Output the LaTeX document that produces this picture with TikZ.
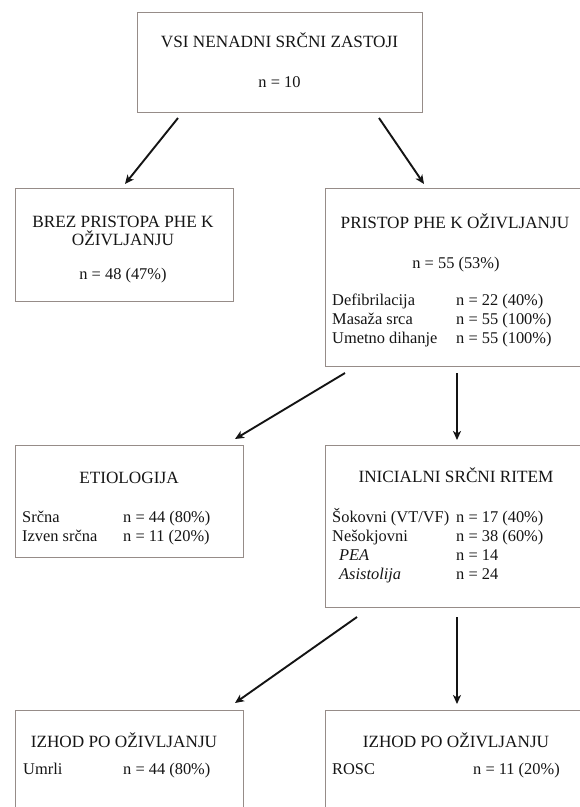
\documentclass[tikz,border=0pt]{standalone}
\usepackage{fontspec}
\setmainfont{Liberation Serif}
\usetikzlibrary{arrows.meta}
\definecolor{boxc}{HTML}{968C88}
\definecolor{ink}{HTML}{151515}
\begin{document}
\begin{tikzpicture}[x=1pt,y=-1pt,
  box/.style={draw=boxc, line width=1.1pt, inner sep=0pt, anchor=north west},
  head/.style={inner sep=0pt, anchor=base, text=ink, font=\fontsize{17.2}{19}\selectfont},
  body/.style={inner sep=0pt, anchor=base west, text=ink, font=\fontsize{16.4}{19}\selectfont},
  bodyc/.style={body, anchor=base},
  arr/.style={draw=black!92, line width=1.9pt, -{Stealth[length=9pt,width=8pt,inset=2.5pt]}}]
\useasboundingbox (0,0) rectangle (580,807);
\clip (0,0) rectangle (580,807);
\fill[white] (0,0) rectangle (580,807);

% boxes
\node[box, minimum width=285pt, minimum height=100pt] (b0) at (137,12) {};
\node[box, minimum width=218pt, minimum height=113pt] (b1) at (15,188) {};
\node[box, minimum width=270pt, minimum height=178pt] (b2) at (325,188) {};
\node[box, minimum width=228pt, minimum height=112pt] (b3) at (15,445) {};
\node[box, minimum width=270pt, minimum height=162pt] (b4) at (325,445) {};
\node[box, minimum width=228pt, minimum height=120pt] (b5) at (15,710) {};
\node[box, minimum width=270pt, minimum height=120pt] (b6) at (325,710) {};

% top box
\node[head] (t0) at (279.5,47) {VSI NENADNI SRČNI ZASTOJI};
\node[bodyc] (n0) at (279.5,87) {n = 10};

% without CPR by witnesses
\node[head] (t1a) at (123,227) {BREZ PRISTOPA PHE K};
\node[head] (t1b) at (123,245) {OŽIVLJANJU};
\node[bodyc] (n1) at (123,279) {n = 48 (47\%)};

% with CPR by witnesses
\node[head] (t2) at (455,228) {PRISTOP PHE K OŽIVLJANJU};
\node[bodyc] (n2) at (456,268) {n = 55 (53\%)};
\node[body] (l2a) at (332,305) {Defibrilacija};
\node[body] (v2a) at (456,305) {n = 22 (40\%)};
\node[body] (l2b) at (332,324) {Masaža srca};
\node[body] (v2b) at (456,324) {n = 55 (100\%)};
\node[body] (l2c) at (332,343) {Umetno dihanje};
\node[body] (v2c) at (456,343) {n = 55 (100\%)};

% etiology
\node[head] (t3) at (129,483) {ETIOLOGIJA};
\node[body] (l3a) at (22,522) {Srčna};
\node[body] (v3a) at (123,522) {n = 44 (80\%)};
\node[body] (l3b) at (22,541) {Izven srčna};
\node[body] (v3b) at (123,541) {n = 11 (20\%)};

% initial rhythm
\node[head] (t4) at (456,482) {INICIALNI SRČNI RITEM};
\node[body] (l4a) at (332,522) {Šokovni (VT/VF)};
\node[body] (v4a) at (456,522) {n = 17 (40\%)};
\node[body] (l4b) at (332,541) {Nešokjovni};
\node[body] (v4b) at (456,541) {n = 38 (60\%)};
\node[body] (l4c) at (339,560) {\itshape PEA};
\node[body] (v4c) at (456,560) {n = 14};
\node[body] (l4d) at (339,579) {\itshape Asistolija};
\node[body] (v4d) at (456,579) {n = 24};

% outcomes
\node[head] (t5) at (124,747) {IZHOD PO OŽIVLJANJU};
\node[body] (l5) at (23,774) {Umrli};
\node[body] (v5) at (123,774) {n = 44 (80\%)};
\node[head] (t6) at (456,747) {IZHOD PO OŽIVLJANJU};
\node[body] (l6) at (332,774) {ROSC};
\node[body] (v6) at (473,774) {n = 11 (20\%)};

% arrow end points
\coordinate (a0s) at (178,118);
\coordinate (a0e) at (125,184);
\coordinate (a1s) at (379,118);
\coordinate (a1e) at (424,184);
\coordinate (a2s) at (345,373);
\coordinate (a2e) at (235,439);
\coordinate (a3s) at (457,373);
\coordinate (a3e) at (457,440);
\coordinate (a4s) at (357,617);
\coordinate (a4e) at (235,703);
\coordinate (a5s) at (457,617);
\coordinate (a5e) at (457,704);

\draw[arr] (a0s) -- (a0e);
\draw[arr] (a1s) -- (a1e);
\draw[arr] (a2s) -- (a2e);
\draw[arr] (a3s) -- (a3e);
\draw[arr] (a4s) -- (a4e);
\draw[arr] (a5s) -- (a5e);
\end{tikzpicture}
\end{document}
